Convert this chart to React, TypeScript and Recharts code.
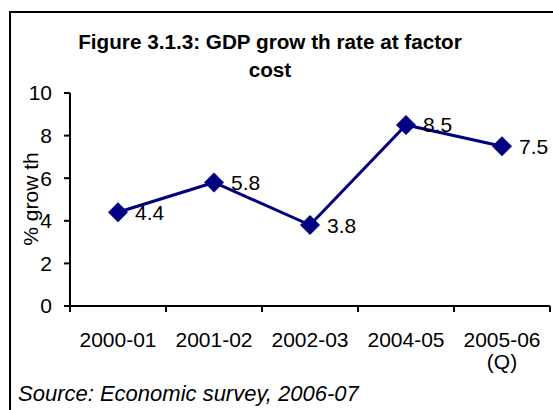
import { LineChart, Line, XAxis, YAxis, LabelList } from 'recharts'

const years = ['2000-01', '2001-02', '2002-03', '2004-05', '2005-06\n(Q)']
const growth = [4.4, 5.8, 3.8, 8.5, 7.5]
const yTicks = [0, 2, 4, 6, 8, 10]

const chartData = years.map((year, i) => ({ year, growth: growth[i] }))

const FONT = "Arial, 'Liberation Sans', sans-serif"
const NAVY = '#000080'
const BAND = 96

function Diamond(props: any) {
  const { cx, cy } = props
  if (cx == null || cy == null) return null
  const r = 10
  return (
    <polygon
      points={`${cx},${cy - r} ${cx + r},${cy} ${cx},${cy + r} ${cx - r},${cy}`}
      fill={NAVY}
      stroke="none"
    />
  )
}

function YearTick(props: any) {
  const { x, y, payload, index } = props
  const lines = String(payload.value).split('\n')
  return (
    <g>
      <line x1={x - BAND / 2} y1={y} x2={x - BAND / 2} y2={y + 6} stroke="#000" strokeWidth={2} />
      {index === years.length - 1 && (
        <line x1={x + BAND / 2} y1={y} x2={x + BAND / 2} y2={y + 6} stroke="#000" strokeWidth={2} />
      )}
      <text x={x} y={y + 41} textAnchor="middle" fontSize={21} fontFamily={FONT} fill="#000">
        {lines.map((l, i) => (
          <tspan key={i} x={x} dy={i === 0 ? 0 : 22}>
            {l}
          </tspan>
        ))}
      </text>
    </g>
  )
}

export default function App() {
  return (
    <div
      style={{
        position: 'absolute',
        left: 0,
        top: 0,
        width: 553,
        height: 410,
        background: '#fff',
        overflow: 'hidden',
        fontFamily: FONT,
      }}
    >
      {/* cropped chart-area border */}
      <div
        style={{
          position: 'absolute',
          left: 9,
          top: 11,
          width: 560,
          height: 420,
          borderLeft: '2px solid #000',
          borderTop: '2px solid #000',
        }}
      />
      <div
        style={{
          position: 'absolute',
          left: 0,
          width: 540,
          top: 28,
          textAlign: 'center',
          fontWeight: 'bold',
          fontSize: 20.7,
          lineHeight: '28px',
          color: '#000',
        }}
      >
        Figure 3.1.3: GDP grow th rate at factor
        <br />
        cost
      </div>
      <div
        style={{
          position: 'absolute',
          left: 18,
          top: 382,
          fontStyle: 'italic',
          fontSize: 22,
          lineHeight: '24px',
          color: '#000',
        }}
      >
        Source: Economic survey, 2006-07
      </div>
      <div style={{ position: 'absolute', left: 0, top: 0 }}>
        <LineChart
          width={553}
          height={410}
          data={chartData}
          margin={{ top: 93, right: 3, left: 0, bottom: 74 }}
        >
          <XAxis
            dataKey="year"
            padding={{ left: BAND / 2, right: BAND / 2 }}
            axisLine={{ stroke: '#000', strokeWidth: 2 }}
            tickLine={false}
            tickSize={0}
            tickMargin={0}
            height={30}
            interval={0}
            tick={<YearTick />}
          />
          <YAxis
            domain={[0, 10]}
            ticks={yTicks}
            width={70}
            axisLine={{ stroke: '#000', strokeWidth: 2 }}
            tickLine={{ stroke: '#000', strokeWidth: 2 }}
            tickSize={6}
            tickMargin={12}
            tick={{ fontSize: 21, fill: '#000', fontFamily: FONT }}
            label={{
              value: '% grow th',
              content: () => (
                <text
                  x={30}
                  y={199}
                  transform="rotate(-90 30 199)"
                  textAnchor="middle"
                  dominantBaseline="central"
                  fontSize={21}
                  fontFamily={FONT}
                  fill="#000"
                >
                  % grow th
                </text>
              ),
            }}
          />
          <Line
            type="linear"
            dataKey="growth"
            stroke={NAVY}
            strokeWidth={3}
            dot={<Diamond />}
            activeDot={false}
            isAnimationActive={false}
          >
            <LabelList
              dataKey="growth"
              position="right"
              offset={17}
              fontSize={21}
              fontFamily={FONT}
              fill="#000"
            />
          </Line>
        </LineChart>
      </div>
    </div>
  )
}
